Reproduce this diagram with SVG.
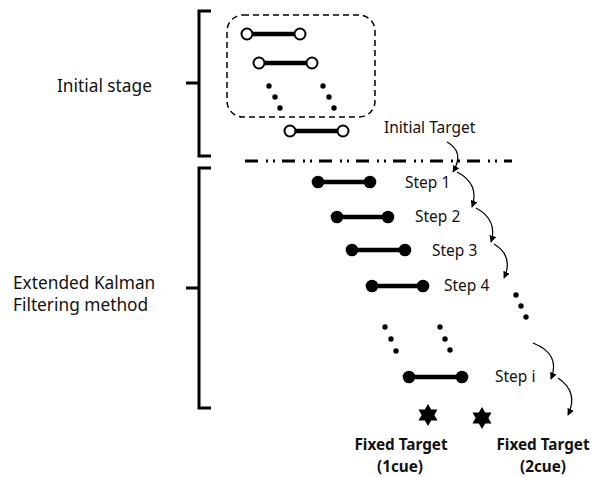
<svg xmlns="http://www.w3.org/2000/svg" width="601" height="477" viewBox="0 0 601 477">
<defs>
<style>
.t{font-family:"Noto Sans","Open Sans","DejaVu Sans",sans-serif;font-size:15.5px;fill:#111}
.l{font-family:"Noto Sans","Open Sans","DejaVu Sans",sans-serif;font-size:17.3px;fill:#111}
.b{font-family:"Noto Sans","Open Sans","DejaVu Sans",sans-serif;font-size:15.3px;font-weight:bold;fill:#111}
.brace{fill:none;stroke:#000;stroke-width:3}
.bar{stroke:#000;stroke-width:4.5}
.oc{fill:#fff;stroke:#000;stroke-width:2}
.fc{fill:#000}
.arc{fill:none;stroke:#000;stroke-width:1.2;marker-end:url(#ah)}
</style>
<marker id="ah" viewBox="0 0 10 10" refX="9" refY="5" markerWidth="7" markerHeight="7" orient="auto" markerUnits="userSpaceOnUse">
<path d="M0,0 L10,5 L0,10 Z" fill="#000"/>
</marker>
<polygon id="star" points="0,-11 3.2,-5.5 9.5,-5.5 6.4,0 9.5,5.5 3.2,5.5 0,11 -3.2,5.5 -9.5,5.5 -6.4,0 -9.5,-5.5 -3.2,-5.5" fill="#000"/>
</defs>
<rect width="601" height="477" fill="#fff"/>

<g id="brace-initial">
<path class="brace" d="M211,11 L199,11 L199,83 L186,83 M199,83 L199,156 L211,156"/>
</g>
<g id="brace-ekf">
<path class="brace" d="M211,168 L199,168 L199,288 L186,288 M199,288 L199,408 L211,408"/>
</g>

<g id="label-initial"><text class="l" x="57" y="92">Initial stage</text></g>
<g id="label-ekf"><text class="l" x="13" y="289">Extended Kalman</text><text class="l" x="13" y="311">Filtering method</text></g>

<g id="initial-box">
<rect x="227" y="15" width="148" height="102" rx="16" fill="none" stroke="#000" stroke-width="1.5" stroke-dasharray="6 4"/>
</g>

<g id="initial-1"><line class="bar" x1="252" y1="34" x2="295" y2="34"/><circle class="oc" cx="247" cy="34" r="5.5"/><circle class="oc" cx="300" cy="34" r="5.5"/></g>
<g id="initial-2"><line class="bar" x1="264" y1="63" x2="307" y2="63"/><circle class="oc" cx="259" cy="63" r="5.5"/><circle class="oc" cx="312" cy="63" r="5.5"/></g>
<g id="initial-dots">
<circle class="fc" cx="269" cy="86" r="2.7"/><circle class="fc" cx="275" cy="97" r="2.7"/><circle class="fc" cx="280" cy="108" r="2.7"/>
<circle class="fc" cx="323" cy="86" r="2.7"/><circle class="fc" cx="329" cy="97" r="2.7"/><circle class="fc" cx="334" cy="108" r="2.7"/>
</g>
<g id="initial-target"><line class="bar" x1="295" y1="131" x2="338" y2="131"/><circle class="oc" cx="290" cy="131" r="5.5"/><circle class="oc" cx="343" cy="131" r="5.5"/>
<text class="t" x="384" y="133">Initial Target</text></g>

<g id="divider"><line x1="245" y1="161" x2="512" y2="161" stroke="#000" stroke-width="3" stroke-dasharray="13 8 2 5 2 7"/></g>

<g id="step1"><line class="bar" x1="318" y1="182" x2="370" y2="182"/><circle class="fc" cx="318" cy="182" r="6.3"/><circle class="fc" cx="370" cy="182" r="6.3"/><text class="t" x="405" y="188">Step 1</text></g>
<g id="step2"><line class="bar" x1="337" y1="217" x2="388" y2="217"/><circle class="fc" cx="337" cy="217" r="6.3"/><circle class="fc" cx="388" cy="217" r="6.3"/><text class="t" x="415" y="222">Step 2</text></g>
<g id="step3"><line class="bar" x1="352" y1="250" x2="405" y2="250"/><circle class="fc" cx="352" cy="250" r="6.3"/><circle class="fc" cx="405" cy="250" r="6.3"/><text class="t" x="432" y="256">Step 3</text></g>
<g id="step4"><line class="bar" x1="372" y1="286" x2="423" y2="286"/><circle class="fc" cx="372" cy="286" r="6.3"/><circle class="fc" cx="423" cy="286" r="6.3"/><text class="t" x="444" y="291">Step 4</text></g>

<g id="step-dots">
<circle class="fc" cx="516" cy="295" r="2.7"/><circle class="fc" cx="521" cy="306" r="2.7"/><circle class="fc" cx="526" cy="317" r="2.7"/>
<circle class="fc" cx="385" cy="327" r="2.7"/><circle class="fc" cx="391" cy="339" r="2.7"/><circle class="fc" cx="396" cy="351" r="2.7"/>
<circle class="fc" cx="440" cy="327" r="2.7"/><circle class="fc" cx="445" cy="339" r="2.7"/><circle class="fc" cx="450" cy="350" r="2.7"/>
</g>

<g id="stepi"><line class="bar" x1="409" y1="377" x2="462" y2="377"/><circle class="fc" cx="409" cy="377" r="6.3"/><circle class="fc" cx="462" cy="377" r="6.3"/><text class="t" x="495" y="382">Step i</text></g>

<g id="fixed1"><use href="#star" x="428" y="415"/><text class="b" x="401" y="450" text-anchor="middle">Fixed Target</text><text class="b" x="400" y="472" text-anchor="middle">(1cue)</text></g>
<g id="fixed2"><use href="#star" x="482" y="418"/><text class="b" x="543" y="450" text-anchor="middle">Fixed Target</text><text class="b" x="543" y="472" text-anchor="middle">(2cue)</text></g>

<g id="connectors">
<path class="arc" d="M447,142 Q465,152 453,172"/>
<path class="arc" d="M457,172 Q480,184 472,207"/>
<path class="arc" d="M476,208 Q498,220 491,242"/>
<path class="arc" d="M494,244 Q514,256 504,278"/>
<path class="arc" d="M533,343 Q561,354 551,379"/>
<path class="arc" d="M558,378 Q579,392 568,415"/>
</g>
</svg>
